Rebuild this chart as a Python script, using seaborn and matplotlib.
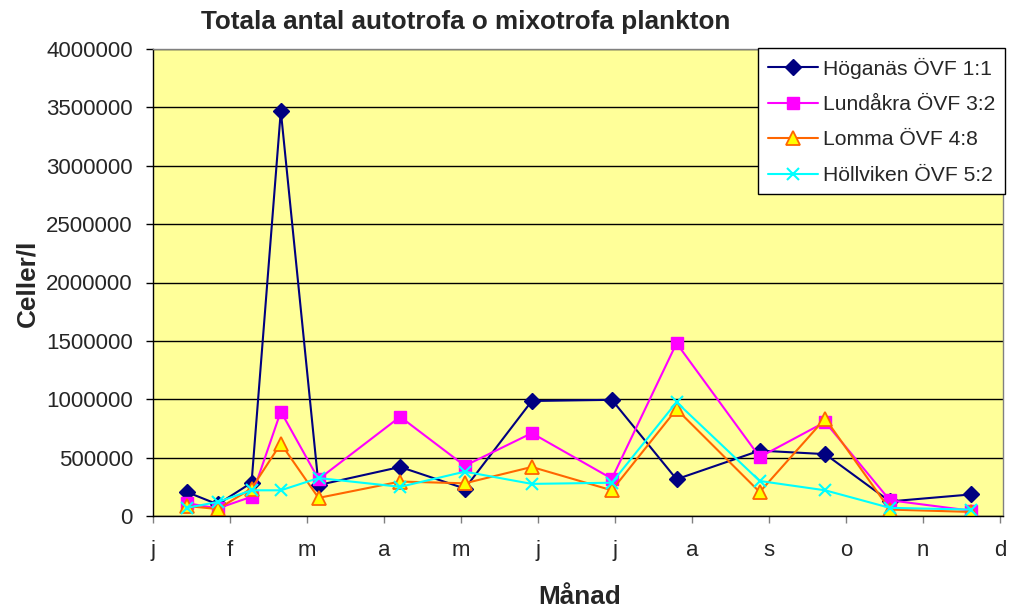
import matplotlib
matplotlib.use('Agg')
import matplotlib.pyplot as plt
import pandas as pd
import seaborn as sns

# month positions (0 = j ... 11 = d) of the sampling dates
sample_pos = [0.44, 0.84, 1.28, 1.66, 2.15, 3.21, 4.05, 4.92, 5.96, 6.80, 7.88, 8.73, 9.57, 10.63]
month_labels = ['j', 'f', 'm', 'a', 'm', 'j', 'j', 'a', 's', 'o', 'n', 'd']

hoganas = [205000, 100000, 285000, 3470000, 265000, 420000, 235000, 985000, 995000,
           315000, 560000, 530000, 125000, 185000]
lundakra = [110000, 65000, 165000, 895000, 315000, 850000, 430000, 710000, 320000,
            1480000, 505000, 805000, 135000, 45000]
lomma = [85000, 60000, 235000, 620000, 155000, 295000, 280000, 420000, 220000,
         915000, 205000, 835000, 55000, 35000]
hollviken = [70000, 120000, 220000, 220000, 325000, 250000, 380000, 275000, 285000,
             975000, 300000, 220000, 70000, 55000]

series_names = ['Höganäs ÖVF 1:1', 'Lundåkra ÖVF 3:2', 'Lomma ÖVF 4:8', 'Höllviken ÖVF 5:2']
series_vals = [hoganas, lundakra, lomma, hollviken]

rows = []
for name, vals in zip(series_names, series_vals):
    for x, v in zip(sample_pos, vals):
        rows.append({'station': name, 'month': x, 'celler': v})
df = pd.DataFrame(rows)

sns.set_style('white')
plt.rcParams['font.family'] = ['Liberation Sans', 'DejaVu Sans']

styles = {
    'Höganäs ÖVF 1:1': dict(color='#000080', marker='D', markersize=8,
                            markerfacecolor='#000080', markeredgecolor='#000080'),
    'Lundåkra ÖVF 3:2': dict(color='#FF00FF', marker='s', markersize=8,
                             markerfacecolor='#FF00FF', markeredgecolor='#FF00FF'),
    'Lomma ÖVF 4:8': dict(color='#FF6600', marker='^', markersize=10,
                          markerfacecolor='#FFFF00', markeredgecolor='#FF6600',
                          markeredgewidth=1.3),
    'Höllviken ÖVF 5:2': dict(color='#00FFFF', marker='x', markersize=9,
                              markeredgecolor='#00FFFF', markeredgewidth=1.5),
}

fig = plt.figure(figsize=(10.09, 6.07), dpi=100)
ax = fig.add_axes([153 / 1009, 1 - 516 / 607, 850 / 1009, 467 / 607])
ax.set_facecolor('#FFFF99')

for name in series_names:
    kw = dict(styles[name])
    kw.setdefault('markeredgewidth', 1.0)
    sns.lineplot(data=df[df['station'] == name], x='month', y='celler', ax=ax,
                 label=name, linewidth=1.5, sort=False, **kw)

# plot area runs a little past the last month tick
ax.set_xlim(0, 11.04)
ax.set_ylim(0, 4000000)
yticks = list(range(0, 4000001, 500000))
ax.set_yticks(yticks)
ax.set_yticklabels([str(v) for v in yticks])
ax.set_xticks(range(12))
ax.set_xticklabels(month_labels)
ax.yaxis.grid(True, color='black', linewidth=1)
ax.xaxis.grid(False)
ax.set_axisbelow(True)
ax.set_xlabel('')
ax.set_ylabel('')

for side in ['left', 'bottom']:
    ax.spines[side].set_color('black')
    ax.spines[side].set_linewidth(1)
for side in ['top', 'right']:
    ax.spines[side].set_color('#808080')
    ax.spines[side].set_linewidth(1)

ax.tick_params(axis='y', direction='out', length=5, width=1, color='black',
               labelsize=16, pad=9.5, left=True)
ax.tick_params(axis='x', direction='out', length=5, width=1, color='#808080',
               labelsize=16, pad=12, bottom=True)

fig.text(466 / 1009, 1 - 22 / 607, 'Totala antal autotrofa o mixotrofa plankton',
         ha='center', va='center', fontsize=18.8, fontweight='bold')
fig.text(27 / 1009, 1 - 283 / 607, 'Celler/l', ha='center', va='center',
         rotation=90, fontsize=18.8, fontweight='bold')
fig.text(580 / 1009, 1 - 597 / 607, 'Månad', ha='center', va='center',
         fontsize=18.8, fontweight='bold')

leg = ax.legend(loc='upper left', bbox_to_anchor=(758 / 1009, 1 - 48 / 607),
                bbox_transform=fig.transFigure, fontsize=15.2, frameon=True,
                fancybox=False, shadow=False, framealpha=1, edgecolor='black',
                handlelength=2.37, labelspacing=0.78, borderpad=0.45,
                handletextpad=0.28, borderaxespad=0)
leg.get_frame().set_linewidth(1)

fig.savefig('out.png', dpi=100)
